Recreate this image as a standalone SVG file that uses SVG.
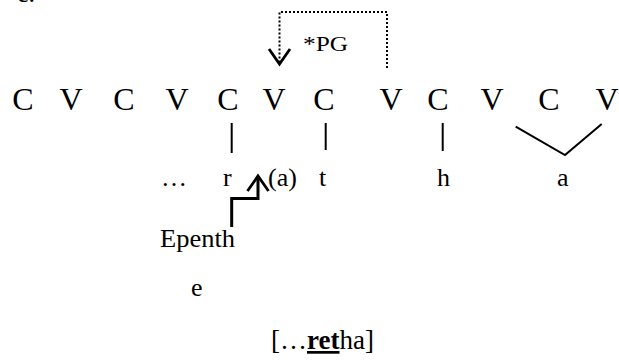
<svg xmlns="http://www.w3.org/2000/svg" width="619" height="360" viewBox="0 0 619 360" font-family="'Liberation Serif', 'DejaVu Serif', serif">
<style>
text { font-family: 'Liberation Serif', 'DejaVu Serif', serif; fill: #000; }
.sk { font-size: 32px; text-anchor: middle; }
.seg { font-size: 26px; }
.ln { stroke: #000; stroke-width: 2; fill: none; }
.dot { stroke: #000; stroke-width: 2; stroke-dasharray: 2 2; fill: none; }
.ep { stroke: #000; stroke-width: 3; fill: none; }
</style>
<defs>
<marker id="openV" markerUnits="userSpaceOnUse" viewBox="-18 -13 24 26" markerWidth="24" markerHeight="26" refX="0" refY="0" orient="auto" overflow="visible">
<path d="M-15,-10.5 L0,0 L-15,10.5" fill="none" stroke="#000" stroke-width="2.8" stroke-linejoin="miter"/>
</marker>
</defs>
<rect width="619" height="360" fill="#fff"/>
<g id="label-c"><text x="17" y="1.5" font-size="26px">c.</text></g>
<g id="skeleton">
<g id="s1"><text class="sk" x="23" y="110">C</text></g>
<g id="s2"><text class="sk" x="71" y="110">V</text></g>
<g id="s3"><text class="sk" x="124" y="110">C</text></g>
<g id="s4"><text class="sk" x="177" y="110">V</text></g>
<g id="s5"><text class="sk" x="228" y="110">C</text></g>
<g id="s6"><text class="sk" x="274" y="110">V</text></g>
<g id="s7"><text class="sk" x="324" y="110">C</text></g>
<g id="s8"><text class="sk" x="391" y="110">V</text></g>
<g id="s9"><text class="sk" x="438" y="110">C</text></g>
<g id="s10"><text class="sk" x="492" y="110">V</text></g>
<g id="s11"><text class="sk" x="549" y="110">C</text></g>
<g id="s12"><text class="sk" x="607" y="110">V</text></g>
</g>
<g id="pg"><text x="303" y="51" font-size="22px" textLength="45" lengthAdjust="spacingAndGlyphs">*PG</text></g>
<g id="segments">
<g id="seg-dots"><text class="seg" x="161" y="186">…</text></g>
<g id="seg-r"><text class="seg" x="223" y="186">r</text></g>
<g id="seg-a"><text class="seg" x="268" y="186">(a)</text></g>
<g id="seg-t"><text class="seg" x="319" y="186">t</text></g>
<g id="seg-h"><text class="seg" x="437" y="186">h</text></g>
<g id="seg-a2"><text class="seg" x="557" y="186">a</text></g>
</g>
<g id="epenthesis"><text x="160" y="247" font-size="25px" textLength="75" lengthAdjust="spacingAndGlyphs">Epenth</text></g>
<g id="epenthesis-e"><text x="191" y="296" font-size="26px">e</text></g>
<g id="output"><text x="271" y="349" font-size="27px">[…<tspan font-weight="bold" text-decoration="underline">ret</tspan>ha]</text></g>
<g id="connectors">
<line class="ln" x1="231.7" y1="123" x2="231.7" y2="153"/>
<line class="ln" x1="325.7" y1="123" x2="325.7" y2="150"/>
<line class="ln" x1="442.7" y1="123" x2="442.7" y2="151"/>
<polyline class="ln" points="515.7,126.7 565,155 601.7,124"/>
<path class="dot" d="M387,68 V12 H279.5 V64" marker-end="url(#openV)"/>
<path class="ep" d="M231.7,227 V198.5 H258 V176" marker-end="url(#openV)"/>
</g>
</svg>
